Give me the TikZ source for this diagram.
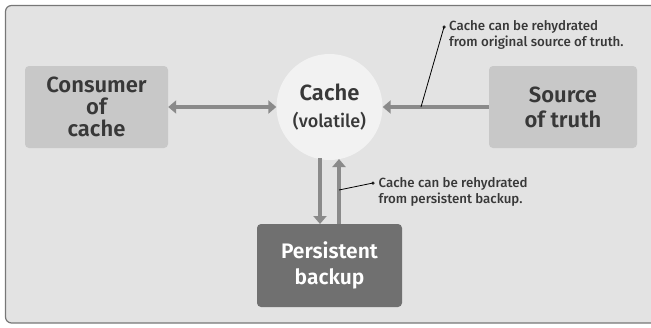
\documentclass[tikz,border=0pt]{standalone}
\usepackage{fontspec}
\setmainfont{Fira Sans}[BoldFont={Fira Sans SemiBold}]
\newfontfamily\medfont{Fira Sans Medium}
\usetikzlibrary{arrows.meta}
\definecolor{bgc}{HTML}{E3E3E3}
\definecolor{framec}{HTML}{777777}
\definecolor{boxc}{HTML}{C8C8C8}
\definecolor{darkbox}{HTML}{707070}
\definecolor{circc}{HTML}{F2F2F2}
\definecolor{arrc}{HTML}{8A8A8A}
\definecolor{txtc}{HTML}{383838}
\tikzset{
  lightbox/.style={fill=boxc, rounded corners=4pt, inner sep=0pt, text=txtc, align=center, font=\fontsize{22}{22}\selectfont\bfseries},
  darkboxs/.style={fill=darkbox, rounded corners=4pt, inner sep=0pt, text=white, align=center, font=\fontsize{21}{26}\selectfont\bfseries},
  flow/.style={draw=arrc, line width=4pt, -{Triangle[width=13pt,length=8pt]}},
  note/.style={text=txtc, align=left, anchor=west, inner sep=0pt, font=\fontsize{13.3}{16}\selectfont\medfont},
  noteline/.style={draw=black, line width=0.8pt},
  dotc/.style={circle, fill=black!85, inner sep=0pt, minimum size=3.5pt}
}
\begin{document}
\begin{tikzpicture}[x=1pt,y=-1pt]
\useasboundingbox (0,0) rectangle (651,327);
\draw[fill=bgc, draw=framec, line width=1.2pt, rounded corners=6pt] (5.5,5.5) rectangle (670,323);
\node[lightbox, minimum width=143pt, minimum height=82pt] (cons) at (96.5,107) {Consumer\\of\\cache};
\node[lightbox, minimum width=148pt, minimum height=82pt, font=\fontsize{22}{25}\selectfont\bfseries] (src) at (563,107) {Source\\of truth};
\node[circle, fill=circc, minimum size=106pt, inner sep=0pt, align=center, text=txtc] (cache) at (329.5,107) {{\fontsize{22}{24}\selectfont\bfseries Cache}\\[10pt]{\fontsize{18}{20}\selectfont\medfont (volatile)}};
\node[darkboxs, minimum width=145pt, minimum height=83pt] (pers) at (329.5,265.5) {Persistent\\backup};
\draw[flow, {Triangle[width=13pt,length=8pt]}-{Triangle[width=13pt,length=8pt]}] (cons.east) -- (cache.west);
\draw[flow] (src.west) -- (cache.east);
\coordinate (c1) at (320,158);
\coordinate (c2) at (320,224);
\coordinate (c3) at (339,224);
\coordinate (c4) at (339,159);
\draw[flow] (c1) -- (c2);
\draw[flow] (c3) -- (c4);
\coordinate (a1) at (421,107);
\node[dotc] (d1) at (444,27) {};
\draw[noteline] (a1) -- (d1.center);
\node[note] (n1) at (449,35) {Cache can be rehydrated\\from original source of truth.};
\coordinate (a2) at (339,190);
\node[dotc] (d2) at (373,183) {};
\draw[noteline] (a2) -- (d2.center);
\node[note] (n2) at (378.5,191.5) {Cache can be rehydrated\\from persistent backup.};
\end{tikzpicture}
\end{document}
